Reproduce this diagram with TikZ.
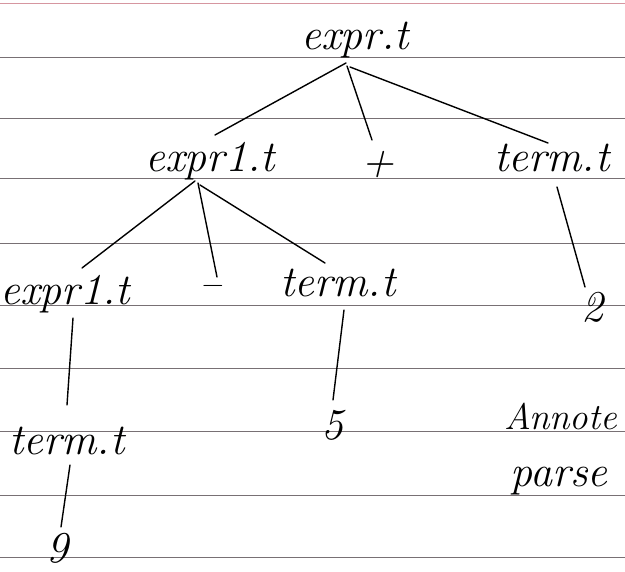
\documentclass[tikz,border=0pt]{standalone}
\usepackage{fontspec}
\definecolor{ruleg}{RGB}{120,112,116}
\definecolor{rulep}{RGB}{214,150,160}
\tikzset{
  hw/.style={font=\fontsize{44}{50}\selectfont\itshape, inner sep=0pt, anchor=base},
  hwside/.style={font=\fontsize{37}{44}\selectfont\itshape, inner sep=0pt, anchor=base west},
  hwsmall/.style={font=\fontsize{30}{36}\selectfont, inner sep=0pt, anchor=base},
  edge/.style={line width=1.4pt, black, line cap=round},
  ruled/.style={line width=0.7pt, ruleg},
  ruledtop/.style={line width=0.8pt, rulep}
}
\begin{document}
\begin{tikzpicture}[x=1pt,y=-1pt]
\useasboundingbox (0,0) rectangle (625,572);
% notebook ruling
\draw[ruledtop] (0,3) -- (625,3);
\foreach \yy in {57,118,178,243,305,368,431,495,557}
  \draw[ruled] (0,\yy) -- (625,\yy);
% nodes
\node[hw] (root)  at (355,50)  {expr.t};
\node[hw] (e1)    at (210,172) {expr1.t};
\node[hw] (plus)  at (378,176) {+};
\node[hw] (t1)    at (552,172) {term.t};
\node[hw] (e2)    at (65,305)  {expr1.t};
\node[hwsmall] (minus) at (213,294) {−};
\node[hw] (t2)    at (338,297) {term.t};
\node[hw] (two)   at (592,322) {2};
\node[hw] (t3)    at (67,455)  {term.t};
\node[hw] (five)  at (332,440) {5};
\node[hw] (nine)  at (57,563)  {9};
\node[hwside] (ann)   at (504,430) {Annote};
\node[hw, anchor=base west] (parse) at (510,487) {parse};
% connectors
\draw[edge] ([shift={(-9,13)}]root.base) -- ([shift={(5,-37)}]e1.base);
\draw[edge] ([shift={(-8,16)}]root.base) -- ([shift={(-6,-36)}]plus.base);
\draw[edge] ([shift={(-5,17)}]root.base) -- ([shift={(-4,-29)}]t1.base);
\draw[edge] ([shift={(-15,9)}]e1.base) -- ([shift={(17,-37)}]e2.base);
\draw[edge] ([shift={(-12,11)}]e1.base) -- ([shift={(4,-17)}]minus.base);
\draw[edge] ([shift={(-10,13)}]e1.base) -- ([shift={(-13,-34)}]t2.base);
\draw[edge] ([shift={(5,15)}]t1.base) -- ([shift={(-7,-35)}]two.base);
\draw[edge] ([shift={(8,13)}]e2.base) -- ([shift={(0,-50)}]t3.base);
\draw[edge] ([shift={(6,13)}]t2.base) -- ([shift={(1,-40)}]five.base);
\draw[edge] ([shift={(3,10)}]t3.base) -- ([shift={(4,-36)}]nine.base);
\end{tikzpicture}
\end{document}
